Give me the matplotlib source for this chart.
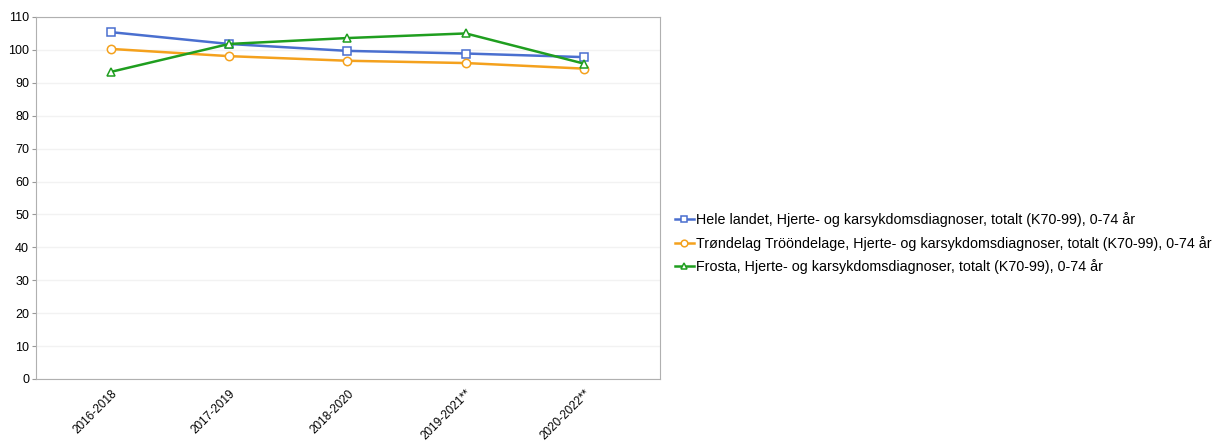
import matplotlib.pyplot as plt
import numpy as np

plt.rcParams['font.family'] = ['Liberation Sans', 'DejaVu Sans']

periods = ['2016-2018', '2017-2019', '2018-2020', '2019-2021**', '2020-2022**']
hele_landet = [105.4, 101.8, 99.7, 98.9, 97.8]
trondelag = [100.3, 98.1, 96.7, 96.0, 94.3]
frosta = [93.3, 101.8, 103.6, 105.0, 95.8]

labels = [
    'Hele landet, Hjerte- og karsykdomsdiagnoser, totalt (K70-99), 0-74 år',
    'Trøndelag Trööndelage, Hjerte- og karsykdomsdiagnoser, totalt (K70-99), 0-74 år',
    'Frosta, Hjerte- og karsykdomsdiagnoser, totalt (K70-99), 0-74 år',
]

fig = plt.figure(figsize=(12.15, 4.41), dpi=100)
ax = fig.add_axes([0.0296, 0.1406, 0.5137, 0.8209])

x = np.arange(len(periods))
ax.plot(x, hele_landet, color='#4a6fcf', marker='s', markersize=6, markerfacecolor='white',
        markeredgewidth=1.1, linewidth=1.8, label=labels[0])
ax.plot(x, trondelag, color='#f4a11d', marker='o', markersize=6, markerfacecolor='white',
        markeredgewidth=1.1, linewidth=1.8, label=labels[1])
ax.plot(x, frosta, color='#1f9e1f', marker='^', markersize=6, markerfacecolor='white',
        markeredgewidth=1.1, linewidth=1.8, label=labels[2])

ax.set_ylim(0, 110)
ax.set_xlim(-0.63, 4.64)
ax.set_yticks(np.arange(0, 111, 10))
ax.set_xticks(x)
ax.set_xticklabels(periods, rotation=45, ha='right', rotation_mode='anchor', fontsize=8.5)
ax.tick_params(axis='y', labelsize=9, length=3, color='#999999', pad=2)
ax.tick_params(axis='x', length=0, pad=6)
ax.grid(axis='y', color='#f2f2f2', linewidth=1)
ax.set_axisbelow(True)
for s in ax.spines.values():
    s.set_color('#b0b0b0')

fig.legend(loc='upper left', bbox_to_anchor=(0.5505, 0.532), frameon=False, fontsize=10.3,
           handlelength=1.35, handletextpad=0.12, labelspacing=0.6, borderaxespad=0,
           markerscale=0.8)

fig.savefig('out.png', dpi=100)
